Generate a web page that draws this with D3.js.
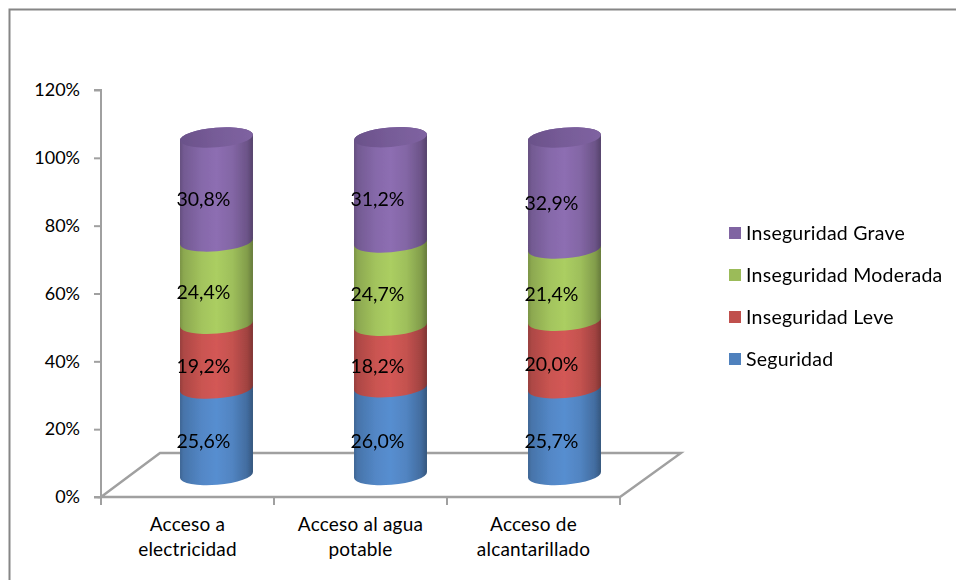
<!DOCTYPE html>
<html><head><meta charset="utf-8">
<script src="https://cdn.jsdelivr.net/npm/d3@7"></script>
<style>html,body{margin:0;padding:0;background:#fff}svg{display:block}text{font-family:Lato,"Open Sans",sans-serif;fill:#000}</style>
</head><body><svg id="c" width="956" height="580"></svg>
<script>
const categories=[["Acceso a","electricidad"],["Acceso al agua","potable"],["Acceso de","alcantarillado"]];
const seriesNames=["Seguridad","Inseguridad Leve","Inseguridad Moderada","Inseguridad Grave"];
const seguridad=[25.6,26.0,25.7];
const leve=[19.2,18.2,20.0];
const moderada=[24.4,24.7,21.4];
const grave=[30.8,31.2,32.9];
const seriesValues=[seguridad,leve,moderada,grave];
const yTicks=[0,20,40,60,80,100,120];
const baseColors=["#4f81bd","#c0504d","#9bbb59","#8064a2"];
const svg=d3.select("#c");
const frameCol="#868686",axisCol="#a0a0a0";
svg.append("path").attr("d","M9.5,580V9.5H956").attr("fill","none").attr("stroke",frameCol).attr("stroke-width",2);
const y=d3.scaleLinear().domain([0,120]).range([497,90]);
const x=d3.scaleBand().domain(d3.range(3)).range([101,620]);
const dx=59,dy=44;
const defs=svg.append("defs");
defs.append("filter").attr("id","soft").append("feGaussianBlur").attr("stdDeviation",0.55);
baseColors.forEach((c,i)=>{
  const g=defs.append("linearGradient").attr("id","g"+i);
  const col=d3.color(c);
  [[0,.78],[.05,.9],[.3,1.05],[.5,1.1],[.72,1.02],[.92,.84],[1,.66]].forEach(([o,k])=>{
    const h=d3.rgb(col.r*k,col.g*k,col.b*k);
    g.append("stop").attr("offset",o).attr("stop-color",h.formatHex());
  });
});
const capGrad=defs.append("linearGradient").attr("id","cap");
[[0,"#6a5189"],[.5,"#775c98"],[1,"#7f63a1"]].forEach(([o,c])=>capGrad.append("stop").attr("offset",o).attr("stop-color",c));
// floor
svg.append("path").attr("d",`M${x.range()[0]},${y(0)}L${x.range()[0]+dx},${y(0)-dy}H${x.range()[1]+dx+2}L${x.range()[1]},${y(0)}Z`)
  .attr("fill","none").attr("stroke",axisCol).attr("stroke-width",2.4).attr("stroke-linejoin","miter");
// axes
const ya=svg.append("g").attr("transform","translate(101,0)").call(d3.axisLeft(y).tickValues(yTicks).tickFormat(d=>d+"%").tickSize(7).tickPadding(14));
ya.selectAll("path,line").attr("stroke",axisCol).attr("stroke-width",2);
ya.select("path").attr("d",`M-7,${y(120)}H0V${y(0)}H-7`);
ya.selectAll("text").attr("font-size",18).attr("fill","#000").style("font-family","Lato");
const xa=svg.append("g");
[...x.domain(),3].forEach(i=>{
  const px=x.range()[0]+i*x.step();
  xa.append("line").attr("x1",px).attr("x2",px).attr("y1",y(0)).attr("y2",y(0)+8).attr("stroke",axisCol).attr("stroke-width",2);
});
categories.forEach((lines,i)=>{
  lines.forEach((t,j)=>{
    svg.append("text").attr("x",x(i)+x.bandwidth()/2).attr("y",531+j*25).attr("text-anchor","middle").attr("font-size",19).attr("letter-spacing",0.2).text(t);
  });
});
// cylinders
const rx=36.6,ry=9.8,tilt=-4.7,rad=tilt*Math.PI/180;
const ex=rx*Math.cos(rad),ey=rx*Math.sin(rad);
const h=d3.scaleLinear().domain([0,100]).range([475,137.5]);
const bars=svg.append("g").attr("filter","url(#soft)");
categories.forEach((_,i)=>{
  const cx=x(i)+x.bandwidth()/2+29+i;
  let cum=0;
  seriesValues.forEach((vals,s)=>{
    const v=vals[i],y0=h(cum),y1=h(cum+v);
    const L=p=>`${cx-ex},${p-ey}`,R=p=>`${cx+ex},${p+ey}`;
    bars.append("path")
      .attr("d",`M${L(y0)}A${rx},${ry} ${tilt} 0 0 ${R(y0)}L${R(y1)}A${rx},${ry} ${tilt} 0 0 ${L(y1)}Z`)
      .attr("fill",`url(#g${s})`);
    if(s===3){
      bars.append("ellipse").attr("cx",cx).attr("cy",y1).attr("rx",rx).attr("ry",ry)
        .attr("transform",`rotate(${tilt} ${cx} ${y1})`).attr("fill","url(#cap)");
    }
    svg.append("text").datum(v).attr("class","val").attr("x",cx-13).attr("y",(y0+y1)/2+16.5)
      .attr("text-anchor","middle").attr("font-size",19.5).text(v.toFixed(1).replace(".",",")+"%");
    cum+=v;
  });
});
svg.selectAll("text.val").raise();
// legend
const ly=d3.scalePoint().domain(seriesNames.slice().reverse()).range([233,359]);
seriesNames.forEach((n,s)=>{
  svg.append("rect").attr("x",729).attr("y",ly(n)-6).attr("width",12).attr("height",12).attr("fill",baseColors[s]);
  svg.append("text").attr("x",746).attr("y",ly(n)+7).attr("font-size",19.5).attr("letter-spacing",0.25).text(n);
});
</script></body></html>
